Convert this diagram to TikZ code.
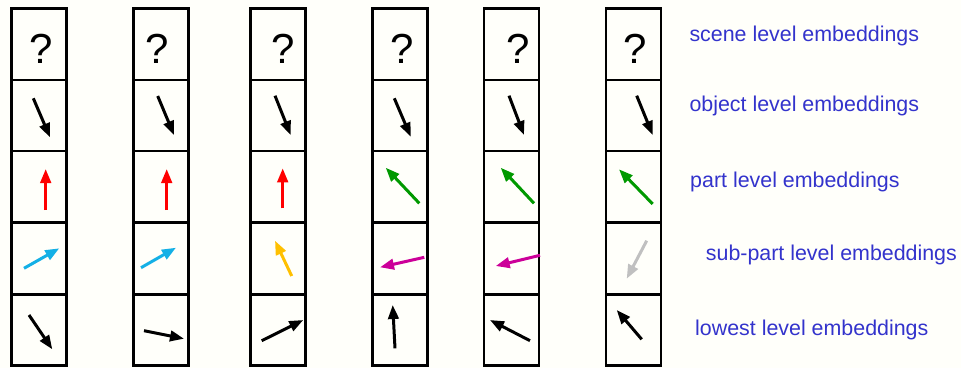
\documentclass[tikz,border=0pt]{standalone}
\usepackage{fontspec}
\setmainfont{Liberation Sans}
\usetikzlibrary{arrows.meta}
\definecolor{bgc}{RGB}{255,255,250}
\definecolor{txtblue}{RGB}{51,51,204}
\definecolor{arrred}{RGB}{255,0,0}
\definecolor{arrcyan}{RGB}{20,176,230}
\definecolor{arrgreen}{RGB}{0,153,0}
\definecolor{arrorange}{RGB}{255,192,0}
\definecolor{arrmag}{RGB}{204,0,153}
\definecolor{arrgray}{RGB}{192,192,192}
\tikzset{
  cell/.style={draw=black, line width=2.5pt, fill=bgc},
  vec/.style={line width=3pt, -{Triangle[length=14pt,width=10.5pt]}},
  qmark/.style={anchor=base, inner sep=0pt, font=\fontsize{42}{46}\selectfont},
  lbl/.style={anchor=base west, inner sep=0pt, text=txtblue, font=\fontsize{21.4}{24}\selectfont},
}
\begin{document}
\begin{tikzpicture}[x=1pt,y=-1pt]
\fill[bgc] (0,0) rectangle (961,368);
\useasboundingbox (0,0) rectangle (961,368);
% columns: left edges
\foreach \c/\xl in {1/11.7, 2/133.3, 3/250.7, 4/372.7, 5/484, 6/606}{
  \foreach \r/\ya/\yb in {1/8.3/80, 2/80/151, 3/151/222.3, 4/222.3/294.3, 5/294.3/365.3}{
    \draw[cell] (\xl,\ya) rectangle (\xl+55,\yb);
  }
}
% question marks
\node[qmark] (q1) at (40.7,63.3) {?};
\node[qmark] (q2) at (156.7,63.3) {?};
\node[qmark] (q3) at (283.3,63.3) {?};
\node[qmark] (q4) at (401.7,63.3) {?};
\node[qmark] (q5) at (518.3,63.3) {?};
\node[qmark] (q6) at (635,63.3) {?};
% object level
\coordinate (o1a) at (33.3,98.3);  \coordinate (o1b) at (50,137.3);
\coordinate (o2a) at (157.7,96);   \coordinate (o2b) at (174,135);
\coordinate (o3a) at (275,95.7);   \coordinate (o3b) at (290.7,135);
\coordinate (o4a) at (394.3,98.3); \coordinate (o4b) at (410.7,136.7);
\coordinate (o5a) at (509,95.7);   \coordinate (o5b) at (524,135);
\coordinate (o6a) at (636.7,95.7); \coordinate (o6b) at (652.7,135);
\foreach \i in {1,...,6}{\draw[vec,black] (o\i a) -- (o\i b);}
% part level
\coordinate (p1a) at (45.7,210);   \coordinate (p1b) at (45.7,169);
\coordinate (p2a) at (166.7,210);  \coordinate (p2b) at (166.7,169);
\coordinate (p3a) at (282.7,208.3);\coordinate (p3b) at (282.7,168.3);
\coordinate (p4a) at (419.3,203.3);\coordinate (p4b) at (385.7,167.7);
\coordinate (p5a) at (534,203.3);  \coordinate (p5b) at (500.7,167.7);
\coordinate (p6a) at (652.7,204);  \coordinate (p6b) at (619,169.3);
\draw[vec,arrred] (p1a) -- (p1b);
\draw[vec,arrred] (p2a) -- (p2b);
\draw[vec,arrred] (p3a) -- (p3b);
\draw[vec,arrgreen] (p4a) -- (p4b);
\draw[vec,arrgreen] (p5a) -- (p5b);
\draw[vec,arrgreen] (p6a) -- (p6b);
% sub-part level
\coordinate (s1a) at (24,268.3);   \coordinate (s1b) at (59.3,248.3);
\coordinate (s2a) at (141,267.7);  \coordinate (s2b) at (176,247.7);
\coordinate (s3a) at (291.7,276);  \coordinate (s3b) at (275,240.7);
\coordinate (s4a) at (424.3,257.3);\coordinate (s4b) at (380,267.3);
\coordinate (s5a) at (540,255.3);  \coordinate (s5b) at (495.7,266);
\coordinate (s6a) at (646.7,240.7);\coordinate (s6b) at (626.7,278.7);
\draw[vec,arrcyan] (s1a) -- (s1b);
\draw[vec,arrcyan] (s2a) -- (s2b);
\draw[vec,arrorange] (s3a) -- (s3b);
\draw[vec,arrmag] (s4a) -- (s4b);
\draw[vec,arrmag] (s5a) -- (s5b);
\draw[vec,arrgray] (s6a) -- (s6b);
% lowest level
\coordinate (l1a) at (29,315);     \coordinate (l1b) at (52.3,349.3);
\coordinate (l2a) at (144,330.7);  \coordinate (l2b) at (184,338.7);
\coordinate (l3a) at (261.7,340.7);\coordinate (l3b) at (303.3,320);
\coordinate (l4a) at (395,348.3);  \coordinate (l4b) at (392.7,305);
\coordinate (l5a) at (530,340.7);  \coordinate (l5b) at (490,320);
\coordinate (l6a) at (641.7,339.3);\coordinate (l6b) at (616.7,310);
\foreach \i in {1,...,6}{\draw[vec,black] (l\i a) -- (l\i b);}
% labels
\node[lbl] (t1) at (689.3,41) {scene level embeddings};
\node[lbl] (t2) at (689.3,111.7) {object level embeddings};
\node[lbl] (t3) at (690,187.5) {part level embeddings};
\node[lbl] (t4) at (705.7,260) {sub-part level embeddings};
\node[lbl] (t5) at (695,335.7) {lowest level embeddings};
\end{tikzpicture}
\end{document}
